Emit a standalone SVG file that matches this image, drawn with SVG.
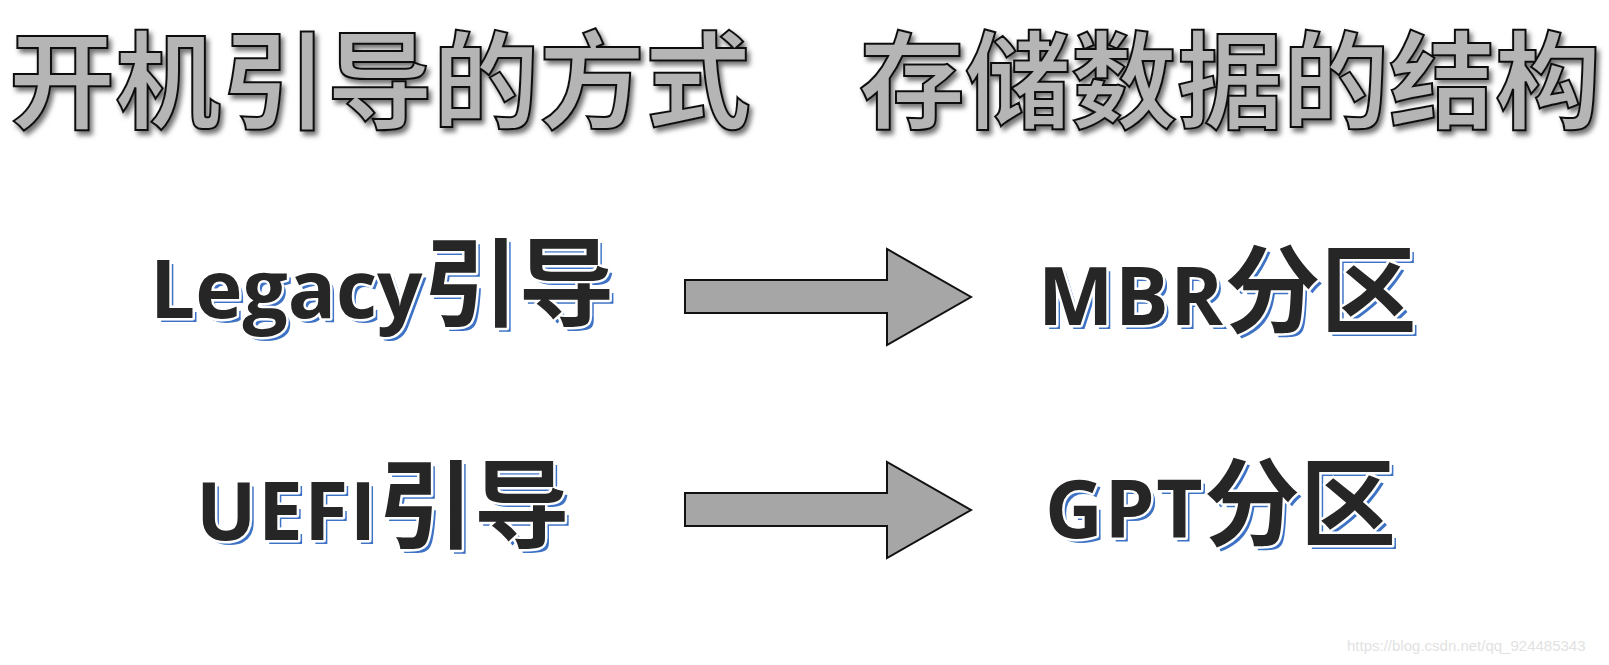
<svg xmlns="http://www.w3.org/2000/svg" xmlns:xlink="http://www.w3.org/1999/xlink" width="1609" height="665" viewBox="0 0 1609 665">
<style>
.title{font-family:"Noto Sans CJK SC","Noto Sans",sans-serif;font-weight:700;font-size:106px;fill:#b5b5b5;stroke:#111;stroke-width:2px;filter:url(#tshadow)}
.lbl{font-family:"Open Sans","Noto Sans CJK SC",sans-serif;font-weight:700;font-size:80px;letter-spacing:1.5px}
.tight{letter-spacing:0}
.cjk{font-family:"Noto Sans CJK SC",sans-serif;font-weight:700;font-size:96px;letter-spacing:0}
.blue{fill:#3d72c4}
.main{fill:#262626;stroke:#ffffff;stroke-width:5px;paint-order:stroke fill;stroke-linejoin:round}
.arrow{fill:#a6a6a6;stroke:#111;stroke-width:2px;stroke-linejoin:miter}
.wm{font-family:"Liberation Sans",Arial,sans-serif;font-size:15px;fill:#e2e2e2}
</style>
<defs>
<filter id="tshadow" x="-5%" y="-20%" width="110%" height="160%">
<feDropShadow dx="3" dy="4" stdDeviation="2.5" flood-color="#000" flood-opacity="0.55"/>
</filter>
<text id="t-legacy" class="lbl tight" x="150" y="318">Legacy<tspan class="cjk">引导</tspan></text>
<text id="t-mbr" class="lbl" x="1038" y="325">MBR<tspan class="cjk">分区</tspan></text>
<text id="t-uefi" class="lbl" x="196" y="540">UEFI<tspan class="cjk">引导</tspan></text>
<text id="t-gpt" class="lbl" x="1045" y="538">GPT<tspan class="cjk">分区</tspan></text>
<path id="arr" d="M685 280 H887 V249 L971 297 L887 345 V313 H685 Z"/>
</defs>
<g id="title-left"><text class="title" x="9" y="120">开机引导的方式</text></g>
<g id="title-right"><text class="title" x="859" y="120">存储数据的结构</text></g>
<g id="legacy"><use xlink:href="#t-legacy" class="blue" x="4" y="4"/><use xlink:href="#t-legacy" class="main"/></g>
<g id="mbr"><use xlink:href="#t-mbr" class="blue" x="4" y="4"/><use xlink:href="#t-mbr" class="main"/></g>
<g id="uefi"><use xlink:href="#t-uefi" class="blue" x="4" y="4"/><use xlink:href="#t-uefi" class="main"/></g>
<g id="gpt"><use xlink:href="#t-gpt" class="blue" x="4" y="4"/><use xlink:href="#t-gpt" class="main"/></g>
<g id="connectors">
<use xlink:href="#arr" class="arrow"/>
<use xlink:href="#arr" class="arrow" y="213"/>
</g>
<text class="wm" x="1347" y="651">https://blog.csdn.net/qq_924485343</text>
</svg>
